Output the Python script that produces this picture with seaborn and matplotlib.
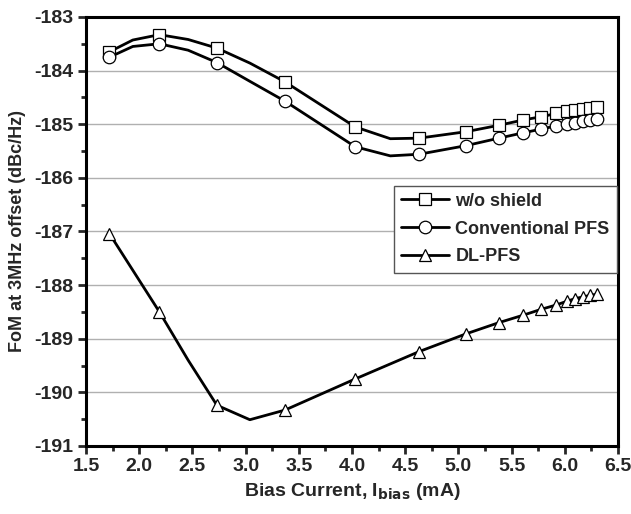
import matplotlib
matplotlib.use("Agg")
import matplotlib.pyplot as plt
from matplotlib.lines import Line2D
from matplotlib.ticker import MultipleLocator
import seaborn as sns
import pandas as pd

# ---- data ----
x_ref = [1.72, 1.94, 2.19, 2.46, 2.73, 3.04, 3.37, 4.03, 4.36, 4.63, 5.07, 5.38,
         5.61, 5.78, 5.92, 6.02, 6.10, 6.17, 6.24, 6.30]
ref_marked = [1, 0, 1, 0, 1, 0, 1, 1, 0, 1, 1, 1, 1, 1, 1, 1, 1, 1, 1, 1]
wo_shield = [-183.65, -183.43, -183.33, -183.42, -183.58, -183.86, -184.21, -185.05,
             -185.27, -185.26, -185.14, -185.02, -184.92, -184.86, -184.80, -184.76,
             -184.74, -184.71, -184.69, -184.67]
conventional = [-183.75, -183.55, -183.50, -183.62, -183.85, -184.20, -184.57, -185.42,
                -185.59, -185.56, -185.40, -185.26, -185.16, -185.09, -185.03, -185.00,
                -184.97, -184.94, -184.92, -184.90]
x_dl = [1.72, 2.19, 2.46, 2.73, 3.04, 3.37, 4.03, 4.63, 5.07, 5.38, 5.61, 5.78,
        5.92, 6.02, 6.10, 6.17, 6.24, 6.30]
dl_marked = [1, 1, 0, 1, 0, 1, 1, 1, 1, 1, 1, 1, 1, 1, 1, 1, 1, 1]
dl_pfs = [-187.04, -188.50, -189.40, -190.24, -190.51, -190.33, -189.75, -189.24,
          -188.91, -188.70, -188.56, -188.45, -188.37, -188.30, -188.25, -188.22,
          -188.19, -188.17]
series_names = ["w/o shield", "Conventional PFS", "DL-PFS"]
markers = ["s", "o", "^"]
x_ticks = [1.5, 2.0, 2.5, 3.0, 3.5, 4.0, 4.5, 5.0, 5.5, 6.0, 6.5]
y_ticks = [-191, -190, -189, -188, -187, -186, -185, -184, -183]

frames = []
for name, xs, ys, mk in [(series_names[0], x_ref, wo_shield, ref_marked),
                         (series_names[1], x_ref, conventional, ref_marked),
                         (series_names[2], x_dl, dl_pfs, dl_marked)]:
    frames.append(pd.DataFrame({"x": xs, "y": ys, "marked": mk, "series": name}))
df = pd.concat(frames, ignore_index=True)

sns.set_style("white")
plt.rcParams["font.family"] = ["Liberation Sans", "DejaVu Sans"]

fig = plt.figure(figsize=(6.31, 5.14), dpi=100)
ax = fig.add_axes([0.1363, 0.1323, 0.8431, 0.8347])

lw = 2.0
for name, mk in zip(series_names, markers):
    sub = df[df["series"] == name]
    sns.lineplot(data=sub, x="x", y="y", ax=ax, color="black", linewidth=lw,
                 sort=False, estimator=None, legend=False, zorder=3)
    subm = sub[sub["marked"] == 1]
    ax.plot(subm["x"], subm["y"], linestyle="none", marker=mk, markersize=9,
            markerfacecolor="white", markeredgecolor="black", markeredgewidth=0.9,
            zorder=4)

ax.set_xlim(1.5, 6.5)
ax.set_ylim(-191, -183)
ax.set_xticks(x_ticks)
ax.set_yticks(y_ticks)
ax.set_xticklabels([f"{v:.1f}" for v in x_ticks], fontsize=14, fontweight="bold")
ax.set_yticklabels([str(v) for v in y_ticks], fontsize=14, fontweight="bold")
ax.xaxis.set_minor_locator(MultipleLocator(0.25))
ax.yaxis.set_minor_locator(MultipleLocator(0.5))
ax.tick_params(axis="both", which="major", direction="out", length=6, width=2,
               bottom=True, left=True, top=False, right=False, pad=3)
ax.tick_params(axis="both", which="minor", direction="out", length=3.5, width=2,
               bottom=True, left=True, top=False, right=False)
ax.grid(axis="y", which="major", color="#b0b0b0", linewidth=1.0)
ax.grid(axis="x", visible=False)
for s in ax.spines.values():
    s.set_linewidth(2.2)
    s.set_color("black")

ax.set_xlabel(r"Bias Current, I$_{\mathbf{bias}}$ (mA)", fontsize=14, fontweight="bold",
              labelpad=4)
ax.set_ylabel("FoM at 3MHz offset (dBc/Hz)", fontsize=13, fontweight="bold", labelpad=6)

handles = [Line2D([0], [0], color="black", linewidth=lw, marker=m, markersize=9,
                  markerfacecolor="white", markeredgecolor="black", markeredgewidth=0.9)
           for m in markers]
leg = ax.legend(handles, series_names, loc="upper left", bbox_to_anchor=(0.579, 0.607),
                prop={"size": 13, "weight": "bold"}, frameon=True, fancybox=False,
                edgecolor="#555555", framealpha=1, handlelength=2.65, handletextpad=0.35,
                borderpad=0.4, labelspacing=0.6, borderaxespad=0)
leg.get_frame().set_linewidth(1.0)

fig.savefig("out.png", dpi=100)
